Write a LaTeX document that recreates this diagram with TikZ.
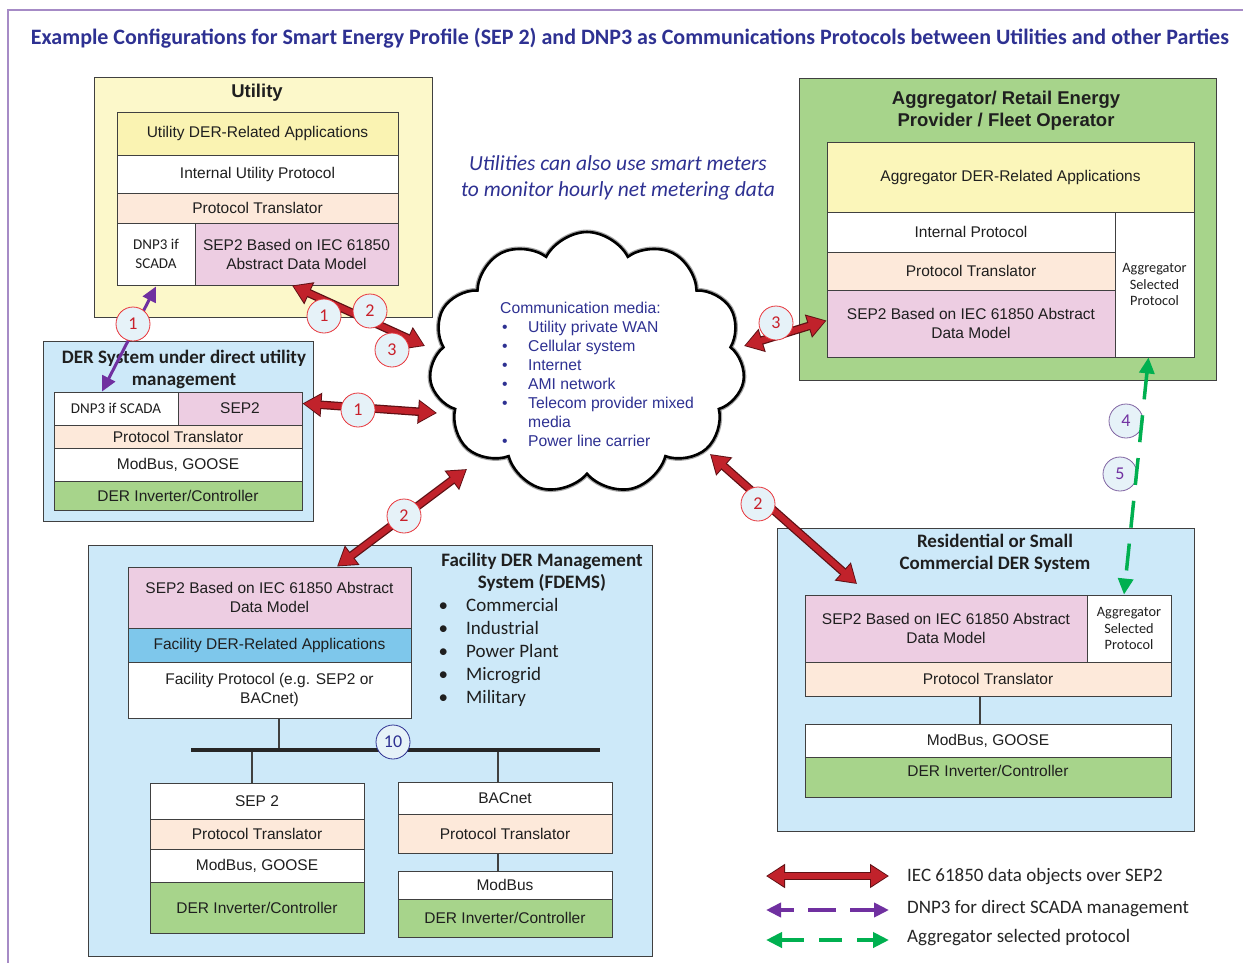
\documentclass[tikz,border=0pt]{standalone}
\usepackage{fontspec}
\setmainfont{Liberation Sans}
\newfontfamily\carl{Carlito}
\usetikzlibrary{arrows.meta,shapes.symbols}

\definecolor{navy}{HTML}{2E3192}
\definecolor{framepurple}{HTML}{A68BC6}
\definecolor{boxline}{HTML}{404040}
\definecolor{uyel}{HTML}{FCF8CA}
\definecolor{uyel2}{HTML}{FAF3B2}
\definecolor{ayel}{HTML}{FBF6BA}
\definecolor{peach}{HTML}{FDE9DA}
\definecolor{pink}{HTML}{EDCDE2}
\definecolor{dgreen}{HTML}{A7D48B}
\definecolor{lblue}{HTML}{CDE9F9}
\definecolor{fblue}{HTML}{7EC7EB}
\definecolor{redfill}{HTML}{C1222B}
\definecolor{reddark}{HTML}{5E1014}
\definecolor{numred}{HTML}{E8353B}
\definecolor{numtxt}{HTML}{C8202A}
\definecolor{numfill}{HTML}{E6F2F8}
\definecolor{purp}{HTML}{7030A0}
\definecolor{purpline}{HTML}{8064A2}
\definecolor{agreen}{HTML}{00B050}

% fonts
\newcommand\boxf{\fontsize{15.5}{19}\selectfont}
\newcommand\ttlf{\bfseries\fontsize{18.5}{22}\selectfont}
\newcommand\ttlcf{\carl\bfseries\fontsize{19}{22}\selectfont}
\newcommand\smallc{\carl\fontsize{15}{19}\selectfont}
\newcommand\aspf{\carl\fontsize{14.3}{16.6}\selectfont}
\newcommand\numf{\carl\fontsize{18}{18}\selectfont}
\newcommand\legf{\carl\fontsize{19}{22}\selectfont}
\newcommand\listf{\carl\fontsize{19}{23}\selectfont}
\newcommand\cloudf{\fontsize{15.7}{19}\selectfont}

% a filled block with its text, given by its corners
\newcommand\blk[8][]{%
  \node[blk, fill=#7, minimum width={#5-#3}, minimum height={#6-#4}, #1]
    (#2) at ({(#3+#5)/2},{(#4+#6)/2}) {#8};}

% a thick red two-headed arrow with a dark rim
\newcommand\redarrow[2]{%
  \draw[redout] #1 -- #2;
  \draw[redin] #1 -- #2;}

\tikzset{
  blk/.style={draw=boxline, line width=0.9pt, inner sep=0pt, align=center,
    font=\boxf, text=black!88},
  ttl/.style={font=\ttlf, align=center, text=black!88, inner sep=0pt},
  ttlc/.style={font=\ttlcf, align=center, text=black!88, inner sep=0pt},
  num/.style={circle, draw=numred, fill=numfill, line width=0.8pt,
    minimum size=34pt, inner sep=0pt, font=\numf, text=numtxt},
  pnum/.style={num, draw=purpline, text=purp},
  bnum/.style={num, draw=navy, text=navy},
  redout/.style={draw=reddark, line width=8.5pt,
    {Triangle[length=19pt,width=23pt]}-{Triangle[length=19pt,width=23pt]}},
  redin/.style={draw=redfill, line width=6pt,
    {Triangle[length=16.5pt,width=19.5pt]}-{Triangle[length=16.5pt,width=19.5pt]},
    shorten <=1.5pt, shorten >=1.5pt},
  purparrow/.style={draw=purp, line width=3pt,
    {Triangle[length=15pt,width=14pt]}-{Triangle[length=15pt,width=14pt]}},
  purpdash/.style={purparrow, line width=4pt, dash pattern=on 28pt off 14pt, dash phase=14pt},
  greendash/.style={draw=agreen, line width=3.5pt, dash pattern=on 27pt off 16pt,
    {Triangle[length=16pt,width=15pt]}-{Triangle[length=16pt,width=15pt]}},
  wire/.style={draw=boxline, line width=1.2pt},
  bus/.style={draw=black!85, line width=3.5pt},
  cloudshape/.style={cloud, cloud puffs=11, cloud puff arc=125, aspect=1.2,
    minimum width=316pt, minimum height=262pt},
}

\begin{document}
\begin{tikzpicture}[x=1pt,y=-1pt]
\useasboundingbox (0,0) rectangle (1243,962);
\fill[white] (0,0) rectangle (1243,962);
\draw[framepurple, line width=1.5pt] (8,10) rectangle (1270,990);

\node[font=\carl\bfseries\fontsize{22}{26}\selectfont, text=navy, inner sep=0pt] (title) at (630,38)
  {Example Configurations for Smart Energy Profile (SEP 2) and DNP3 as Communications Protocols between Utilities and other Parties};

% ---------- Utility ----------
\blk{utilbox}{94}{77}{432}{317}{uyel}{}
\node[ttl] (utiltitle) at (257,93) {Utility};
\blk{uapp}{117}{112}{398}{155}{uyel2}{Utility DER-Related Applications}
\blk{uint}{117}{155}{398}{193}{white}{Internal Utility Protocol}
\blk{utr}{117}{193}{398}{223}{peach}{Protocol Translator}
\blk[font=\smallc]{udnp}{117}{223}{195}{285}{white}{DNP3 if\\SCADA}
\blk{usep}{195}{223}{398}{285}{pink}{SEP2 Based on IEC 61850\\Abstract Data Model}

% ---------- DER system under direct utility management ----------
\blk{derbox}{43}{341}{313}{521}{lblue}{}
\node[ttlc] (dertitle) at (184,369) {DER System under direct utility\\management};
\blk[font=\smallc]{ddnp}{54}{392}{178}{425}{white}{DNP3 if SCADA}
\blk{dsep}{178}{392}{302}{425}{pink}{SEP2}
\blk{dtr}{54}{425}{302}{448}{peach}{Protocol Translator}
\blk{dmod}{54}{448}{302}{481}{white}{ModBus, GOOSE}
\blk{dinv}{54}{481}{302}{510}{dgreen}{DER Inverter/Controller}

% ---------- Aggregator ----------
\blk{aggbox}{799}{78}{1216}{380}{dgreen}{}
\node[ttl] (aggtitle) at (1006,111) {Aggregator/ Retail Energy\\Provider / Fleet Operator};
\blk{aapp}{827}{142}{1194}{212}{ayel}{Aggregator DER-Related Applications}
\blk{aint}{827}{212}{1115}{252}{white}{Internal Protocol}
\blk{atr}{827}{252}{1115}{290}{peach}{Protocol Translator}
\blk{asep}{827}{290}{1115}{357}{pink}{SEP2 Based on IEC 61850 Abstract\\Data Model}
\blk[font=\aspf]{aasp}{1115}{212}{1194}{357}{white}{Aggregator\\Selected\\Protocol}

% ---------- Residential ----------
\blk{resbox}{777}{528}{1194}{831}{lblue}{}
\node[ttlc] (restitle) at (995,553) {Residential or Small\\Commercial DER System};
\blk{rsep}{805}{595}{1087}{662}{pink}{SEP2 Based on IEC 61850 Abstract\\Data Model}
\blk[font=\aspf]{rasp}{1087}{595}{1171}{662}{white}{Aggregator\\Selected\\Protocol}
\blk{rtr}{805}{662}{1171}{696}{peach}{Protocol Translator}
\blk{rmod}{805}{724}{1171}{757}{white}{ModBus, GOOSE}
\blk{rinv}{805}{757}{1171}{797}{dgreen}{}
\node[font=\boxf, text=black!88, inner sep=0pt] (rinvtext) at (988,771) {DER Inverter/Controller};
\draw[wire] ([xshift=-8pt]rtr.south) -- ([xshift=-8pt]rmod.north);

% ---------- FDEMS ----------
\blk{fdbox}{88}{545}{652}{956}{lblue}{}
\node[ttlc] (fdtitle) at (542,572) {Facility DER Management\\System (FDEMS)};
\node[font=\listf, align=left, anchor=north west, inner sep=0pt, text=black!88] (fdlist) at (437,598)
  {\makebox[29pt][l]{\hspace{1.5pt}\textbullet}Commercial\\
   \makebox[29pt][l]{\hspace{1.5pt}\textbullet}Industrial\\
   \makebox[29pt][l]{\hspace{1.5pt}\textbullet}Power Plant\\
   \makebox[29pt][l]{\hspace{1.5pt}\textbullet}Microgrid\\
   \makebox[29pt][l]{\hspace{1.5pt}\textbullet}Military};
\blk{fsep}{128}{567}{411}{628}{pink}{SEP2 Based on IEC 61850 Abstract\\Data Model}
\blk{fapp}{128}{628}{411}{662}{fblue}{Facility DER-Related Applications}
\blk{fpro}{128}{662}{411}{718}{white}{Facility Protocol (e.g. SEP2 or\\BACnet)}
\blk{lsep}{150}{783}{364}{819}{white}{SEP 2}
\blk{ltr}{150}{819}{364}{849}{peach}{Protocol Translator}
\blk{lmod}{150}{849}{364}{882}{white}{ModBus, GOOSE}
\blk{linv}{150}{882}{364}{933}{dgreen}{DER Inverter/Controller}
\blk{bac}{398}{782}{612}{814}{white}{BACnet}
\blk{btr}{398}{814}{612}{853}{peach}{Protocol Translator}
\blk{bmod}{398}{871}{612}{899}{white}{ModBus}
\blk{binv}{398}{899}{612}{937}{dgreen}{DER Inverter/Controller}

\coordinate (busl) at (191,750);
\coordinate (busr) at (600,750);
\draw[wire] ([xshift=9.5pt]fpro.south) -- ([xshift=9.5pt]fpro.south |- busl);
\draw[wire] ([xshift=-5pt]lsep.north) -- ([xshift=-5pt]lsep.north |- busl);
\draw[wire] ([xshift=-7pt]bac.north) -- ([xshift=-7pt]bac.north |- busl);
\draw[wire] ([xshift=-7pt]btr.south) -- ([xshift=-7pt]bmod.north);
\draw[bus] (busl) -- (busr);
\node[bnum] (n10) at (393,742) {10};

% ---------- communication cloud ----------
\node[cloudshape, draw=black!35, line width=5pt] (cloudhalo) at (587,363) {};
\node[cloudshape, draw=black, fill=white, line width=2.6pt] (cloud) at (587,363) {};
\node[font=\cloudf, text=navy, align=left, anchor=north west, inner sep=0pt] (media) at (500,302)
  {Communication media:\\
   \makebox[28pt][l]{\hspace{2pt}\textbullet}Utility private WAN\\
   \makebox[28pt][l]{\hspace{2pt}\textbullet}Cellular system\\
   \makebox[28pt][l]{\hspace{2pt}\textbullet}Internet\\
   \makebox[28pt][l]{\hspace{2pt}\textbullet}AMI network\\
   \makebox[28pt][l]{\hspace{2pt}\textbullet}Telecom provider mixed\\
   \hspace*{28pt}media\\
   \makebox[28pt][l]{\hspace{2pt}\textbullet}Power line carrier};

\node[font=\carl\itshape\fontsize{21.5}{26}\selectfont, text=navy, align=center, inner sep=0pt] (note)
  at (618,178) {Utilities can also use smart meters\\to monitor hourly net metering data};

% ---------- connectors ----------
\coordinate (cu) at (425,346);
\coordinate (cd) at (437,413);
\coordinate (cf) at (467,469);
\coordinate (cr) at (710,454);
\coordinate (ca) at (744,346);
\coordinate (rtip) at (857,584);

\redarrow{([xshift=-4.5pt]usep.south)}{(cu)}
\redarrow{([yshift=5pt]dsep.east)}{(cd)}
\redarrow{(cf)}{([xshift=67.5pt]fsep.north)}
\redarrow{(cr)}{(rtip)}
\redarrow{(ca)}{([yshift=3pt]asep.west)}

\draw[purparrow] ([xshift=-14pt]ddnp.north) -- ([yshift=-1pt]udnp.south);

\node[num] (n1p) at (133,324) {1};
\node[num] (n1u) at (324,316) {1};
\node[num] (n2u) at (370,311) {2};
\node[num] (n3u) at (392,350) {3};
\node[num] (n1d) at (358,410) {1};
\node[num] (n2f) at (404,516) {2};
\node[num] (n2r) at (758,504) {2};
\node[num] (n3a) at (776,323) {3};
\node[pnum] (n4) at (1126,421) {4};
\node[pnum] (n5) at (1120,474) {5};

\draw[greendash] ([xshift=-6pt]aasp.south) -- ([xshift=-5pt]rasp.north);

% ---------- legend ----------
\coordinate (lr1) at (766,876);  \coordinate (lr2) at (889,876);
\coordinate (lp1) at (766,910);  \coordinate (lp2) at (889,910);
\coordinate (lg1) at (766,940);  \coordinate (lg2) at (889,940);
\redarrow{(lr1)}{(lr2)}
\draw[purpdash] (lp1) -- (lp2);
\draw[greendash, line width=4pt, dash pattern=on 23pt off 15pt] (lg1) -- (lg2);
\node[font=\legf, text=black!85, anchor=west, inner sep=0pt] (leg1) at (907,877) {IEC 61850 data objects over SEP2};
\node[font=\legf, text=black!85, anchor=west, inner sep=0pt] (leg2) at (907,909) {DNP3 for direct SCADA management};
\node[font=\legf, text=black!85, anchor=west, inner sep=0pt] (leg3) at (907,938) {Aggregator selected protocol};
\end{tikzpicture}
\end{document}
